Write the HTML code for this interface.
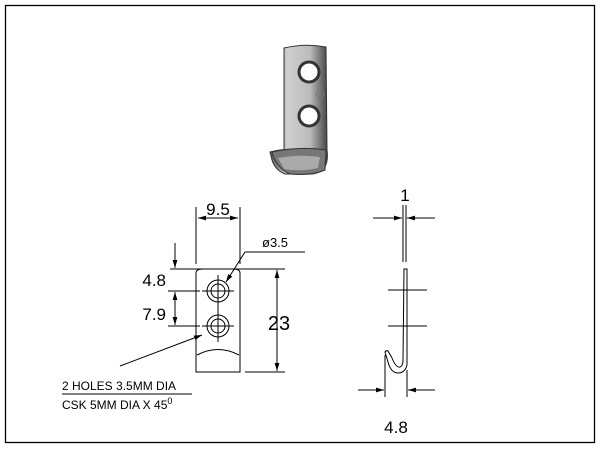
<!DOCTYPE html>
<html><head><meta charset="utf-8"><style>
html,body{margin:0;padding:0;background:#fff;width:600px;height:450px;overflow:hidden}
svg text{font-family:"Liberation Sans",sans-serif;fill:#000}
</style></head><body>
<svg width="600" height="450" viewBox="0 0 600 450" xmlns="http://www.w3.org/2000/svg">
<defs>
<linearGradient id="g" x1="0" x2="1">
<stop offset="0" stop-color="#555"/><stop offset="0.3" stop-color="#cfcfcf"/><stop offset="0.7" stop-color="#bbb"/><stop offset="1" stop-color="#444"/>
</linearGradient>
<marker id="a" viewBox="0 0 10 6" refX="10" refY="3" markerWidth="8" markerHeight="5" orient="auto-start-reverse" markerUnits="userSpaceOnUse"><path d="M0,0 L10,3 L0,6Z" fill="#000"/></marker>
</defs>
<rect x="5.5" y="5.5" width="589" height="437" fill="none" stroke="#000" stroke-width="1.3"/>
<!-- photo -->
<path d="M284,48 Q305,43 326,47 L327,150 Q330,172 312,174 L285,174 Q275,170 272,160 L270,152 Q285,148 300,150 L284,150Z" fill="url(#g)" stroke="#333" stroke-width="1"/>
<path d="M272,152 Q300,146 326,150 L325,170 Q312,176 290,174 Q276,168 272,152Z" fill="#777" stroke="#333"/>
<path d="M278,158 Q300,154 320,157 L318,168 Q300,172 284,169Z" fill="#aaa"/>
<circle cx="309" cy="72" r="10" fill="#fff" stroke="#333" stroke-width="3"/>
<circle cx="309" cy="116" r="10" fill="#fff" stroke="#333" stroke-width="3"/>
<circle cx="320" cy="94" r="4" fill="none" stroke="#777"/>
<g stroke="#000" stroke-width="1" fill="none">
<!-- front view -->
<path d="M196,372 L196,273 Q196,269 203,269 L233,269 Q240,269 240,273 L240,372Z"/>
<path d="M197,355 Q218,344 239,355"/>
<circle cx="218" cy="291" r="11"/><circle cx="218" cy="291" r="7"/>
<circle cx="218" cy="326" r="11"/><circle cx="218" cy="326" r="7"/>
<line x1="202" y1="291" x2="234" y2="291"/><line x1="218" y1="275" x2="218" y2="342"/>
<line x1="202" y1="326" x2="234" y2="326"/>
<line x1="196" y1="207" x2="196" y2="264"/><line x1="240" y1="207" x2="240" y2="264"/>
<line x1="198" y1="218" x2="238" y2="218" marker-start="url(#a)" marker-end="url(#a)"/>
<line x1="170" y1="269" x2="285" y2="269"/>
<line x1="245" y1="372" x2="285" y2="372"/>
<line x1="277" y1="270" x2="277" y2="371" marker-start="url(#a)" marker-end="url(#a)"/>
<line x1="168" y1="291" x2="200" y2="291"/><line x1="168" y1="326" x2="200" y2="326"/>
<line x1="175" y1="243" x2="175" y2="268" marker-end="url(#a)"/>
<line x1="175" y1="292" x2="175" y2="325" marker-start="url(#a)" marker-end="url(#a)"/>
<path d="M305,252 L245,252 L226,282" marker-end="url(#a)"/>
<line x1="120" y1="366" x2="202" y2="335" marker-end="url(#a)"/>
<line x1="62" y1="394" x2="192" y2="394"/>
<!-- side view -->
<line x1="403" y1="205" x2="403" y2="262"/><line x1="406" y1="205" x2="406" y2="262"/>
<line x1="373" y1="218" x2="402" y2="218" marker-end="url(#a)"/>
<line x1="435" y1="218" x2="407" y2="218" marker-end="url(#a)"/>
<path d="M404,269 L407,269 L407,365 Q405,373 398,373 Q391,373 388,362 L385,352 Q386,350 388,351 L392,358 Q396,368 400,367 Q403,366 403,360 Z"/>
<line x1="388" y1="290" x2="427" y2="290"/><line x1="388" y1="326" x2="427" y2="326"/>
<line x1="385" y1="355" x2="385" y2="397"/><line x1="407" y1="370" x2="407" y2="397"/>
<line x1="358" y1="390" x2="384" y2="390" marker-end="url(#a)"/>
<line x1="435" y1="390" x2="408" y2="390" marker-end="url(#a)"/>
</g>
<g font-size="17">
<text x="218" y="215" text-anchor="middle">9.5</text>
<text x="166" y="286" text-anchor="end">4.8</text>
<text x="166" y="320" text-anchor="end">7.9</text>
<text x="279" y="330" text-anchor="middle" font-size="20">23</text>
<text x="405" y="201" text-anchor="middle">1</text>
<text x="396" y="433" text-anchor="middle">4.8</text>
</g>
<text x="262" y="247" font-size="13">ø3.5</text>
<text x="62" y="390" font-size="12">2 HOLES 3.5MM DIA</text>
<text x="62" y="409" font-size="12">CSK 5MM DIA X 45<tspan dy="-5" font-size="9">0</tspan></text>
</svg>
</body></html>
